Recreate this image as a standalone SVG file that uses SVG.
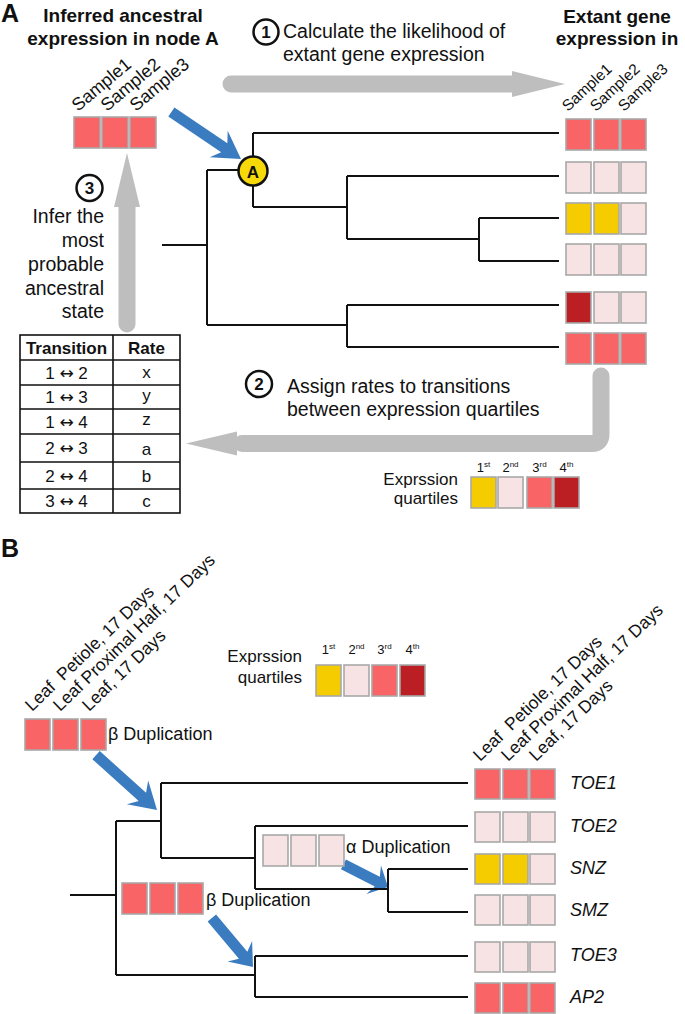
<svg xmlns="http://www.w3.org/2000/svg" width="685" height="1014" viewBox="0 0 685 1014">
<style>
text{font-family:"Liberation Sans",Arial,Helvetica,sans-serif;fill:#111}
.hb{font-size:19px;font-weight:bold;text-anchor:middle}
.big{font-size:25px;font-weight:bold}
.bd{font-size:19.5px}
.num{font-size:17px;font-weight:bold;text-anchor:middle}
.smp{font-size:18px}
.smp2{font-size:15.5px}
.tb{font-size:17px;text-anchor:middle}
.ar{font-family:"DejaVu Sans",sans-serif;font-size:17px}
.tbh{font-size:17px;font-weight:bold;text-anchor:middle}
.lg{font-size:17px;text-anchor:end}
.q{font-size:13px;text-anchor:middle}
.lf{font-size:17.5px}
.dup{font-size:18px}
.gn{font-size:18px;font-style:italic}
.S{fill:#f96466}.P{fill:#f7e3e3}.Y{fill:#f4cc00}.D{fill:#bb1f24}
rect.c{stroke:#a8a8a8;stroke-width:1.6}
.tree{fill:none;stroke:#111;stroke-width:2}
.gray{fill:#bebebe}
.gl{fill:none;stroke:#bebebe;stroke-width:17;stroke-linecap:round;stroke-linejoin:round}
.blue{fill:#3b7cc0}
.circ{fill:#fff;stroke:#111;stroke-width:2.5}
</style>
<defs>
<polygon id="barrow" points="0,0 -32,-16 -24,-5.5 -100,-5.5 -100,5.5 -24,5.5 -32,16"/>
</defs>

<!-- Panel A -->
<g id="panelA-label"><text x="1" y="22" class="big">A</text></g>
<g id="title-inferred">
<text x="123" y="22" class="hb">Inferred ancestral</text>
<text x="123" y="45" class="hb">expression in node A</text>
</g>
<g id="title-extant">
<text x="617" y="23" class="hb">Extant gene</text>
<text x="617" y="45" class="hb">expression in</text>
</g>

<g id="step1">
<circle cx="266" cy="32" r="12.5" class="circ"/>
<text x="266" y="38" class="num">1</text>
<text x="283" y="38" class="bd">Calculate the likelihood of</text>
<text x="283" y="61" class="bd">extant gene expression</text>
</g>

<g id="connectors">
<path d="M231,84 H520" class="gl"/>
<polygon points="512,71 565,84 512,97" class="gray"/>
<path d="M127,324 V200" class="gl"/>
<polygon points="114,207 127,153 140,207" class="gray"/>
<path d="M601,376 V434 Q601,443.5 592,443.5 H242" class="gl"/>
<polygon points="237,431.5 186,443.5 237,455.5" class="gray"/>
<use href="#barrow" transform="translate(241,159) rotate(34) scale(0.84,1)" class="blue"/>
<use href="#barrow" transform="translate(157,810) rotate(42) scale(0.82,1)" class="blue"/>
<use href="#barrow" transform="translate(388,887) rotate(27) scale(0.5,1)" class="blue"/>
<use href="#barrow" transform="translate(253,967) rotate(50) scale(0.64,1)" class="blue"/>
<path class="tree" d="M162,245 H207 M207,170 V325 M207,170 H253 M253,133 V207 M253,133 H559 M253,207 H347 M347,176 V239 M347,176 H559 M347,239 H479 M479,218 V261 M479,218 H559 M479,261 H559 M207,325 H347 M347,305 V347 M347,305 H559 M347,347 H559"/>
<path class="tree" d="M70,895 H116 M116,821 V975 M116,821 H161 M161,783 V858 M161,783 H468 M161,858 H255 M255,826 V889 M255,826 H468 M255,889 H388 M388,869 V912 M388,869 H468 M388,912 H468 M116,975 H255 M255,956 V997 M255,956 H468 M255,997 H468"/>
</g>

<g id="nodeA">
<circle cx="253" cy="171" r="14.5" fill="#f7d90a" stroke="#111" stroke-width="2.5"/>
<text x="253" y="177.5" class="num">A</text>
</g>

<g id="ancestral-A">
<text class="smp" transform="translate(78,112) rotate(-40)">Sample1</text>
<text class="smp" transform="translate(107,112) rotate(-40)">Sample2</text>
<text class="smp" transform="translate(136,112) rotate(-40)">Sample3</text>
<rect class="c S" x="74" y="117" width="26" height="31"/>
<rect class="c S" x="102" y="117" width="26" height="31"/>
<rect class="c S" x="130" y="117" width="26" height="31"/>
</g>

<g id="extant-A">
<text class="smp2" transform="translate(568,112) rotate(-43)">Sample1</text>
<text class="smp2" transform="translate(596,112) rotate(-43)">Sample2</text>
<text class="smp2" transform="translate(624,112) rotate(-43)">Sample3</text>
<rect class="c S" x="566" y="119" width="25" height="31"/><rect class="c S" x="594" y="119" width="25" height="31"/><rect class="c S" x="621" y="119" width="25" height="31"/>
<rect class="c P" x="566" y="162" width="25" height="31"/><rect class="c P" x="594" y="162" width="25" height="31"/><rect class="c P" x="621" y="162" width="25" height="31"/>
<rect class="c Y" x="566" y="203" width="25" height="31"/><rect class="c Y" x="594" y="203" width="25" height="31"/><rect class="c P" x="621" y="203" width="25" height="31"/>
<rect class="c P" x="566" y="244" width="25" height="31"/><rect class="c P" x="594" y="244" width="25" height="31"/><rect class="c P" x="621" y="244" width="25" height="31"/>
<rect class="c D" x="566" y="292" width="25" height="31"/><rect class="c P" x="594" y="292" width="25" height="31"/><rect class="c P" x="621" y="292" width="25" height="31"/>
<rect class="c S" x="566" y="333" width="25" height="31"/><rect class="c S" x="594" y="333" width="25" height="31"/><rect class="c S" x="621" y="333" width="25" height="31"/>
</g>

<g id="step3">
<circle cx="89.5" cy="188" r="13" class="circ"/>
<text x="89.5" y="194" class="num">3</text>
<text x="104" y="223" class="bd" text-anchor="end">Infer the</text>
<text x="104" y="247" class="bd" text-anchor="end">most</text>
<text x="104" y="271" class="bd" text-anchor="end">probable</text>
<text x="104" y="295" class="bd" text-anchor="end">ancestral</text>
<text x="104" y="318" class="bd" text-anchor="end">state</text>
</g>

<g id="rate-table">
<rect x="20" y="335" width="160" height="178" fill="#fff" stroke="#111" stroke-width="1.6"/>
<path d="M113,335 V513 M20,360 H180 M20,385 H180 M20,409 H180 M20,434 H180 M20,462 H180 M20,489 H180" stroke="#111" stroke-width="1.6" fill="none"/>
<text x="66.5" y="354" class="tbh">Transition</text>
<text x="146.5" y="354" class="tbh">Rate</text>
<text x="66.5" y="379" class="tb">1 <tspan class="ar">↔</tspan> 2</text><text x="146.5" y="378" class="tb">x</text>
<text x="66.5" y="403" class="tb">1 <tspan class="ar">↔</tspan> 3</text><text x="146.5" y="401" class="tb">y</text>
<text x="66.5" y="428" class="tb">1 <tspan class="ar">↔</tspan> 4</text><text x="146.5" y="425" class="tb">z</text>
<text x="66.5" y="454" class="tb">2 <tspan class="ar">↔</tspan> 3</text><text x="146.5" y="455" class="tb">a</text>
<text x="66.5" y="482" class="tb">2 <tspan class="ar">↔</tspan> 4</text><text x="146.5" y="482" class="tb">b</text>
<text x="66.5" y="507" class="tb">3 <tspan class="ar">↔</tspan> 4</text><text x="146.5" y="507" class="tb">c</text>
</g>

<g id="step2">
<circle cx="259" cy="384" r="13" class="circ"/>
<text x="259" y="390" class="num">2</text>
<text x="287" y="393" class="bd">Assign rates to transitions</text>
<text x="287" y="416" class="bd">between expression quartiles</text>
</g>

<g id="legend-A">
<text x="458" y="485" class="lg">Exprssion</text>
<text x="458" y="504" class="lg">quartiles</text>
<text x="483.5" y="472" class="q">1<tspan font-size="8" dy="-5">st</tspan></text>
<text x="510.5" y="472" class="q">2<tspan font-size="8" dy="-5">nd</tspan></text>
<text x="539.5" y="472" class="q">3<tspan font-size="8" dy="-5">rd</tspan></text>
<text x="566.5" y="472" class="q">4<tspan font-size="8" dy="-5">th</tspan></text>
<rect class="c Y" x="471" y="477" width="25" height="31"/>
<rect class="c P" x="498" y="477" width="25" height="31"/>
<rect class="c S" x="527" y="477" width="25" height="31"/>
<rect class="c D" x="554" y="477" width="25" height="31"/>
</g>

<!-- Panel B -->
<g id="panelB-label"><text x="1" y="557" class="big">B</text></g>

<g id="legend-B">
<text x="302" y="662" class="lg">Exprssion</text>
<text x="302" y="683" class="lg">quartiles</text>
<text x="328.5" y="654" class="q">1<tspan font-size="8" dy="-5">st</tspan></text>
<text x="356.5" y="654" class="q">2<tspan font-size="8" dy="-5">nd</tspan></text>
<text x="384.5" y="654" class="q">3<tspan font-size="8" dy="-5">rd</tspan></text>
<text x="412.5" y="654" class="q">4<tspan font-size="8" dy="-5">th</tspan></text>
<rect class="c Y" x="316" y="665" width="25" height="31"/>
<rect class="c P" x="344" y="665" width="25" height="31"/>
<rect class="c S" x="372" y="665" width="25" height="31"/>
<rect class="c D" x="400" y="665" width="25" height="31"/>
</g>

<g id="root-B">
<text class="lf" xml:space="preserve" transform="translate(32,712) rotate(-44)">Leaf  Petiole, 17 Days</text>
<text class="lf" transform="translate(60,712) rotate(-44)">Leaf Proximal Half, 17 Days</text>
<text class="lf" transform="translate(89,712) rotate(-44)">Leaf, 17 Days</text>
<rect class="c S" x="25" y="719" width="25" height="31"/>
<rect class="c S" x="53" y="719" width="25" height="31"/>
<rect class="c S" x="81" y="719" width="25" height="31"/>
<text x="108" y="740" class="dup">β Duplication</text>
</g>

<g id="alpha-B">
<rect class="c P" x="263" y="835" width="25" height="31"/>
<rect class="c P" x="291" y="835" width="25" height="31"/>
<rect class="c P" x="319" y="835" width="25" height="31"/>
<text x="346" y="853" class="dup">α Duplication</text>
</g>

<g id="beta2-B">
<rect class="c S" x="122" y="883" width="25" height="31"/>
<rect class="c S" x="150" y="883" width="25" height="31"/>
<rect class="c S" x="178" y="883" width="25" height="31"/>
<text x="206" y="906" class="dup">β Duplication</text>
</g>

<g id="extant-B">
<text class="lf" xml:space="preserve" transform="translate(480,762) rotate(-44)">Leaf  Petiole, 17 Days</text>
<text class="lf" transform="translate(508,762) rotate(-44)">Leaf Proximal Half, 17 Days</text>
<text class="lf" transform="translate(536,762) rotate(-44)">Leaf, 17 Days</text>
<rect class="c S" x="475" y="769" width="25" height="30"/><rect class="c S" x="503" y="769" width="25" height="30"/><rect class="c S" x="530" y="769" width="25" height="30"/>
<rect class="c P" x="475" y="812" width="25" height="30"/><rect class="c P" x="503" y="812" width="25" height="30"/><rect class="c P" x="530" y="812" width="25" height="30"/>
<rect class="c Y" x="475" y="854" width="25" height="30"/><rect class="c Y" x="503" y="854" width="25" height="30"/><rect class="c P" x="530" y="854" width="25" height="30"/>
<rect class="c P" x="475" y="895" width="25" height="30"/><rect class="c P" x="503" y="895" width="25" height="30"/><rect class="c P" x="530" y="895" width="25" height="30"/>
<rect class="c P" x="475" y="942" width="25" height="30"/><rect class="c P" x="503" y="942" width="25" height="30"/><rect class="c P" x="530" y="942" width="25" height="30"/>
<rect class="c S" x="475" y="983" width="25" height="30"/><rect class="c S" x="503" y="983" width="25" height="30"/><rect class="c S" x="530" y="983" width="25" height="30"/>
<text x="570" y="789" class="gn">TOE1</text>
<text x="570" y="832" class="gn">TOE2</text>
<text x="570" y="874" class="gn">SNZ</text>
<text x="570" y="916" class="gn">SMZ</text>
<text x="570" y="961" class="gn">TOE3</text>
<text x="570" y="1003" class="gn">AP2</text>
</g>
</svg>
